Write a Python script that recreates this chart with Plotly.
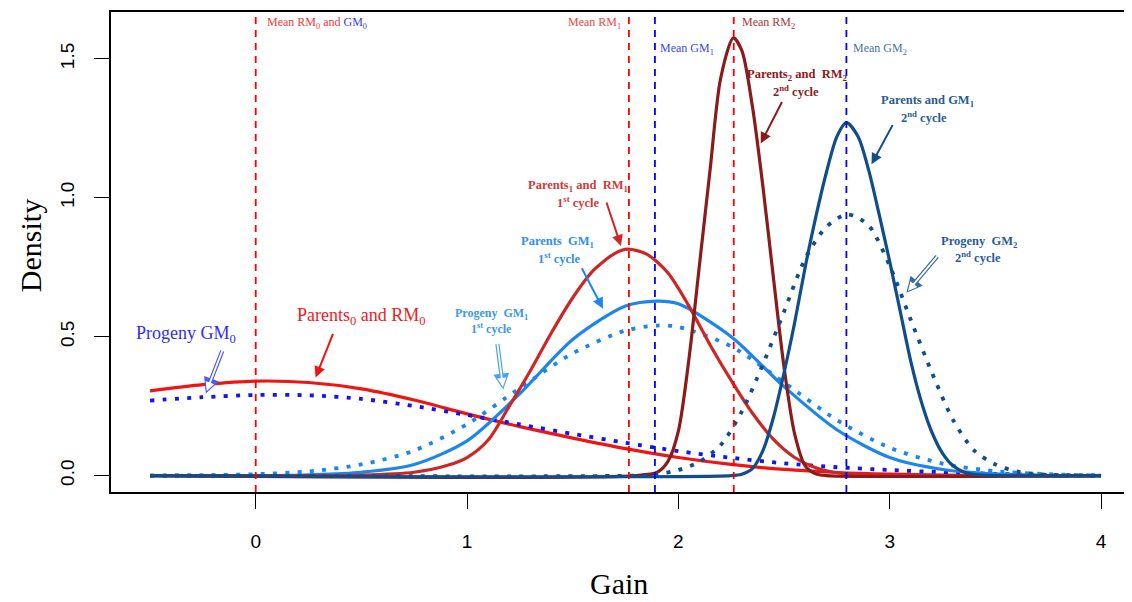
import plotly.graph_objects as go

# ---------------- data ----------------
x_rm0 = [-0.5, -0.25, 0, 0.25, 0.5, 0.75, 1.0, 1.25, 1.5, 1.75, 2.0, 2.25, 2.5, 2.75, 3.0, 3.25, 3.5, 3.75, 4.0]
y_rm0 = [0.305, 0.327, 0.34, 0.335, 0.312, 0.272, 0.222, 0.176, 0.135, 0.097, 0.065, 0.04, 0.022, 0.011, 0.005, 0.002, 0.0005, 0, 0]

x_gm0 = [-0.5, -0.25, 0, 0.25, 0.5, 0.75, 1.0, 1.25, 1.5, 1.75, 2.0, 2.25, 2.5, 2.75, 3.0, 3.25, 3.5, 3.75, 4.0]
y_gm0 = [0.27, 0.282, 0.29, 0.289, 0.276, 0.25, 0.218, 0.184, 0.15, 0.118, 0.088, 0.064, 0.044, 0.03, 0.02, 0.012, 0.006, 0.002, 0]

x_prog_gm1 = [-0.5, -0.25, 0, 0.25, 0.5, 0.75, 1.0, 1.25, 1.5, 1.75, 1.9, 2.0, 2.25, 2.5, 2.75, 3.0, 3.25, 3.5, 3.75, 4.0]
y_prog_gm1 = [0, 0.001, 0.005, 0.015, 0.04, 0.09, 0.185, 0.315, 0.44, 0.522, 0.54, 0.535, 0.465, 0.335, 0.2, 0.1, 0.043, 0.016, 0.005, 0]

x_par_gm1 = [-0.5, 0, 0.25, 0.5, 0.75, 1.0, 1.25, 1.5, 1.75, 1.9, 2.0, 2.25, 2.5, 2.75, 3.0, 3.25, 3.5, 3.75, 4.0]
y_par_gm1 = [0, 0, 0.003, 0.012, 0.04, 0.125, 0.295, 0.49, 0.61, 0.628, 0.618, 0.5, 0.32, 0.165, 0.065, 0.022, 0.006, 0.001, 0]

x_rm1 = [-0.5, 0.5, 0.75, 0.9, 1.0, 1.1, 1.2, 1.3, 1.4, 1.5, 1.6, 1.7, 1.76, 1.85, 1.95, 2.05, 2.15, 2.26, 2.35, 2.45, 2.55, 2.65, 2.75, 2.9, 3.1, 4.0]
y_rm1 = [0, 0.002, 0.012, 0.035, 0.065, 0.128, 0.25, 0.378, 0.515, 0.64, 0.74, 0.8, 0.815, 0.797, 0.73, 0.61, 0.47, 0.33, 0.225, 0.13, 0.065, 0.028, 0.01, 0.002, 0, 0]

x_rm2 = [-0.5, 1.8, 1.9, 1.95, 2.0, 2.05, 2.1, 2.15, 2.2, 2.26, 2.3, 2.35, 2.4, 2.45, 2.5, 2.55, 2.6, 2.65, 2.7, 4.0]
y_rm2 = [0, 0, 0.012, 0.05, 0.16, 0.42, 0.76, 1.1, 1.43, 1.575, 1.53, 1.33, 1.04, 0.71, 0.39, 0.15, 0.035, 0.006, 0, 0]

x_prog_gm2 = [-0.5, 1.8, 1.9, 2.0, 2.1, 2.2, 2.3, 2.4, 2.5, 2.6, 2.7, 2.8, 2.9, 3.0, 3.1, 3.2, 3.3, 3.4, 3.5, 3.6, 3.7, 3.8, 4.0]
y_prog_gm2 = [0, 0, 0.005, 0.02, 0.05, 0.11, 0.23, 0.40, 0.59, 0.78, 0.895, 0.94, 0.9, 0.755, 0.56, 0.37, 0.2, 0.09, 0.04, 0.015, 0.005, 0.001, 0]

x_par_gm2 = [-0.5, 2.25, 2.3, 2.35, 2.4, 2.45, 2.5, 2.55, 2.6, 2.65, 2.7, 2.75, 2.795, 2.85, 2.9, 2.95, 3.0, 3.05, 3.1, 3.15, 3.2, 3.25, 3.3, 3.35, 3.4, 3.5, 4.0]
y_par_gm2 = [0, 0, 0.005, 0.025, 0.09, 0.21, 0.37, 0.55, 0.75, 0.93, 1.09, 1.22, 1.27, 1.22, 1.10, 0.94, 0.77, 0.59, 0.41, 0.265, 0.155, 0.08, 0.035, 0.013, 0.004, 0, 0]

mean_names = ["RM0", "RM1", "GM1", "RM2", "GM2"]
mean_values = [0.0, 1.766, 1.889, 2.262, 2.795]
mean_colors = ["#FF0000", "#FF0000", "#0000FF", "#FF0000", "#0000FF"]

x_ticks = [0, 1, 2, 3, 4]
y_ticks = [0, 0.5, 1.0, 1.5]
y_tick_text = ["0.0", "0.5", "1.0", "1.5"]

# ---------------- colours ----------------
RED = "#F01414"
BLUE = "#1414F0"
DB2 = "#1C86EE"   # dodgerblue2
FB3 = "#CD2626"   # firebrick3
FB4 = "#8B1A1A"   # firebrick4
DB4 = "#104E8B"   # dodgerblue4

SERIF = "Liberation Serif, Times New Roman, serif"
SANS = "Liberation Sans, Arial, sans-serif"

fig = go.Figure()

def curve(x, y, color, dotted=False):
    if dotted:
        line = dict(color=color, width=3.8, dash="4px,8.3px", shape="spline", smoothing=0.8)
    else:
        line = dict(color=color, width=3.2, shape="spline", smoothing=0.8)
    fig.add_trace(go.Scatter(x=x, y=y, mode="lines", line=line, showlegend=False, hoverinfo="skip"))

curve(x_rm0, y_rm0, RED)
curve(x_gm0, y_gm0, BLUE, dotted=True)
curve(x_prog_gm1, y_prog_gm1, DB2, dotted=True)
curve(x_par_gm1, y_par_gm1, DB2)
curve(x_rm1, y_rm1, FB3)
curve(x_rm2, y_rm2, FB4)
curve(x_prog_gm2, y_prog_gm2, DB4, dotted=True)
curve(x_par_gm2, y_par_gm2, DB4)

# vertical mean lines
for v, c in zip(mean_values, mean_colors):
    fig.add_shape(type="line", xref="x", yref="paper", x0=v, x1=v, y0=0, y1=1,
                  line=dict(color=c, width=1.8, dash="7px,6px"), layer="above")

# ---------------- layout helpers ----------------
# page-pixel geometry of the plot box (the page body has an 8px margin)
OFF = 8
L, R, T, B = 111, 1130, 10, 492
PAGE_W, PAGE_H = 1132, 602
W, H = PAGE_W - OFF, PAGE_H - OFF
X0_PX, X_UNIT = 256.0, 211.75
Y0_PX, Y_UNIT = 475.5, 279.0

def P(px, py):
    return (px - L) / (R - L), (B - py) / (B - T)

ann = []

def text(px, py, s, color, size, anchor="center", bold=False, family=SERIF):
    x, y = P(px, py)
    if bold:
        s = "<b>" + s + "</b>"
    ann.append(dict(x=x, y=y, xref="paper", yref="paper", text=s, showarrow=False,
                    xanchor=anchor, yanchor="middle",
                    font=dict(family=family, size=size, color=color)))

def arrow(tail, tip, color, width=2, hollow=False):
    x, y = P(*tip)
    ax, ay = tail[0] - tip[0], tail[1] - tip[1]
    if hollow:
        ann.append(dict(x=x, y=y, xref="paper", yref="paper", ax=ax, ay=ay, axref="pixel", ayref="pixel",
                        text="", showarrow=True, arrowhead=2, arrowsize=0.75, arrowwidth=4.2,
                        arrowcolor=color, standoff=0))
        ann.append(dict(x=x, y=y, xref="paper", yref="paper", ax=ax, ay=ay, axref="pixel", ayref="pixel",
                        text="", showarrow=True, arrowhead=2, arrowsize=1.0, arrowwidth=1.8,
                        arrowcolor="white", standoff=2.5))
    else:
        ann.append(dict(x=x, y=y, xref="paper", yref="paper", ax=ax, ay=ay, axref="pixel", ayref="pixel",
                        text="", showarrow=True, arrowhead=2, arrowsize=1.1, arrowwidth=width,
                        arrowcolor=color, standoff=0))

# mean labels
text(265, 21, 'Mean RM<sub>0</sub> and <span style="color:#3A3AF0">GM<sub>0</sub></span>', "#EE4040", 12, "left")
text(624, 21, "Mean RM<sub>1</sub>", "#EE4A4A", 12, "right")
text(659, 47, "Mean GM<sub>1</sub>", "#3A4AF0", 12, "left")
text(741, 21, "Mean RM<sub>2</sub>", "#A83A3A", 12, "left")
text(852, 47, "Mean GM<sub>2</sub>", "#4A72AA", 12, "left")

# curve labels
text(798, 73, "Parents<sub>2</sub> and  RM<sub>2</sub>", FB4, 12.5, bold=True)
text(797, 89, "2<sup>nd</sup> cycle", FB4, 12.5, bold=True)
text(929, 99, "Parents and GM<sub>1</sub>", "#2A5C96", 12.5, bold=True)
text(926, 115, "2<sup>nd</sup> cycle", "#2A5C96", 12.5, bold=True)
text(579, 185, "Parents<sub>1</sub> and  RM<sub>1</sub>", "#D03A3A", 12.5, bold=True)
text(579, 201, "1<sup>st</sup> cycle", "#D03A3A", 12.5, bold=True)
text(558, 241, "Parents  GM<sub>1</sub>", "#2F90EE", 12.5, bold=True)
text(560, 257, "1<sup>st</sup> cycle", "#2F90EE", 12.5, bold=True)
text(981, 241, "Progeny  GM<sub>2</sub>", "#2A5C96", 12.5, bold=True)
text(980, 256, "2<sup>nd</sup> cycle", "#2A5C96", 12.5, bold=True)
text(492, 313, "Progeny  GM<sub>1</sub>", "#3A98EE", 12, bold=True)
text(492, 328, "1<sup>st</sup> cycle", "#3A98EE", 12, bold=True)
text(186, 334, "Progeny GM<sub>0</sub>", "#3030EE", 18)
text(362, 316, "Parents<sub>0</sub> and RM<sub>0</sub>", "#F02020", 18)

# arrows
arrow((334, 332), (316, 377), RED, 2)
arrow((223, 349), (206, 393), "#4A5AF5", hollow=True)
arrow((498, 342), (504, 389), "#4AA0F0", hollow=True)
arrow((582, 266), (604, 308), DB2, 2)
arrow((607, 200), (622, 245), FB3, 2)
arrow((784, 99), (762, 142), FB4, 2)
arrow((895, 122), (873, 163), DB4, 2)
arrow((940, 254), (908, 292), "#3A6AA0", hollow=True)

# axis titles
text(620, 584, "Gain", "black", 30)
ann.append(dict(x=(30 - L) / (R - L), y=(B - 245) / (B - T), xref="paper", yref="paper",
                text="Density", showarrow=False, textangle=-90, xanchor="center", yanchor="middle",
                font=dict(family=SERIF, size=30, color="black")))

fig.update_layout(
    width=W, height=H,
    margin=dict(l=L - OFF, r=PAGE_W - R, t=T - OFF, b=PAGE_H - B, pad=0),
    paper_bgcolor="white", plot_bgcolor="white",
    annotations=ann,
    xaxis=dict(range=[(L - X0_PX) / X_UNIT, (R - X0_PX) / X_UNIT], tickvals=x_ticks,
               ticks="outside", ticklen=15, tickwidth=1.3, tickcolor="black",
               showline=True, linecolor="black", linewidth=1.5, mirror=True,
               showgrid=False, zeroline=False, ticklabelstandoff=16,
               tickfont=dict(family=SANS, size=19, color="black")),
    yaxis=dict(range=[(Y0_PX - B) / Y_UNIT, (Y0_PX - T) / Y_UNIT], tickvals=y_ticks, ticktext=y_tick_text,
               ticks="outside", ticklen=15, tickwidth=1.3, tickcolor="black", tickangle=-90,
               showline=True, linecolor="black", linewidth=1.5, mirror=True,
               showgrid=False, zeroline=False, ticklabelstandoff=13,
               tickfont=dict(family=SANS, size=19, color="black")),
)

fig.write_html("out.html")
